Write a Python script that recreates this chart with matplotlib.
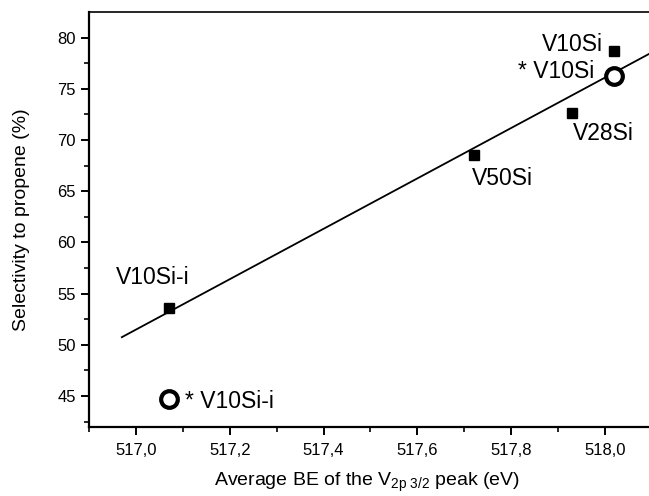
import numpy as np
import matplotlib
matplotlib.use("Agg")
import matplotlib.pyplot as plt
from matplotlib.ticker import MultipleLocator, FuncFormatter

plt.rcParams['font.family'] = ['Liberation Sans', 'DejaVu Sans']
plt.rcParams['mathtext.fontset'] = 'custom'
plt.rcParams['mathtext.rm'] = 'Liberation Sans'
plt.rcParams['mathtext.it'] = 'Liberation Sans'

# Catalysts: average V 2p3/2 binding energy vs. propene selectivity
sample_labels = ["V10Si-i", "V50Si", "V28Si", "V10Si"]
be_ev = [517.07, 517.72, 517.93, 518.02]
selectivity = [53.6, 68.5, 72.6, 78.7]

starred_labels = ["* V10Si-i", "* V10Si"]
starred_be = [517.07, 518.02]
starred_sel = [44.7, 76.3]

fit_range = [516.97, 518.10]

fig = plt.figure(figsize=(6.49, 4.96), dpi=100)
ax = fig.add_axes([0.1371, 0.1397, 0.8675, 0.8355])

# linear trend through the filled squares
slope, intercept = np.polyfit(be_ev, selectivity, 1)
xf = np.array(fit_range)
ax.plot(xf, slope * xf + intercept, color='black', lw=1.3, zorder=2)

ax.plot(be_ev, selectivity, linestyle='none', marker='s', ms=7.8,
        color='black', zorder=3)
ax.plot(starred_be, starred_sel, linestyle='none', marker='o', ms=12,
        mfc='white', mec='black', mew=3.0, zorder=4)

fs = 16.5
ax.text(516.957, 56.6, "V10Si-i", ha='left', va='center', fontsize=fs)
ax.text(517.716, 66.26, "V50Si", ha='left', va='center', fontsize=fs)
ax.text(517.932, 70.68, "V28Si", ha='left', va='center', fontsize=fs)
ax.text(517.996, 79.38, "V10Si", ha='right', va='center', fontsize=fs)
ax.text(517.978, 76.74, "* V10Si", ha='right', va='center', fontsize=fs)
ax.text(517.104, 44.44, "* V10Si-i", ha='left', va='center', fontsize=fs)

ax.set_xlim(516.9, 518.1)
ax.set_ylim(42.0, 82.48)

ax.xaxis.set_major_locator(MultipleLocator(0.2))
ax.xaxis.set_minor_locator(MultipleLocator(0.1))
ax.yaxis.set_major_locator(MultipleLocator(5))
ax.yaxis.set_minor_locator(MultipleLocator(2.5))
ax.xaxis.set_major_formatter(FuncFormatter(lambda v, p: f"{v:.1f}".replace('.', ',')))
ax.yaxis.set_major_formatter(FuncFormatter(lambda v, p: f"{v:.0f}"))

ax.tick_params(which='major', direction='out', length=6, width=1.4,
               labelsize=12, pad=3.4)
ax.tick_params(which='minor', direction='out', length=3.5, width=1.2)
ax.tick_params(axis='x', which='major', pad=5.5)

ax.spines['left'].set_linewidth(1.6)
ax.spines['bottom'].set_linewidth(1.6)
ax.spines['top'].set_linewidth(1.2)
ax.spines['right'].set_visible(False)

ax.set_xlabel(r"Average BE of the V$_{\mathrm{2p\ 3/2}}$ peak (eV)", fontsize=14,
              va='baseline')
ax.xaxis.set_label_coords(0.493, -0.143)
ax.set_ylabel("Selectivity to propene (%)", fontsize=14, va='center')
ax.yaxis.set_label_coords(-0.119, 0.5)

fig.savefig("out.png", dpi=100)
